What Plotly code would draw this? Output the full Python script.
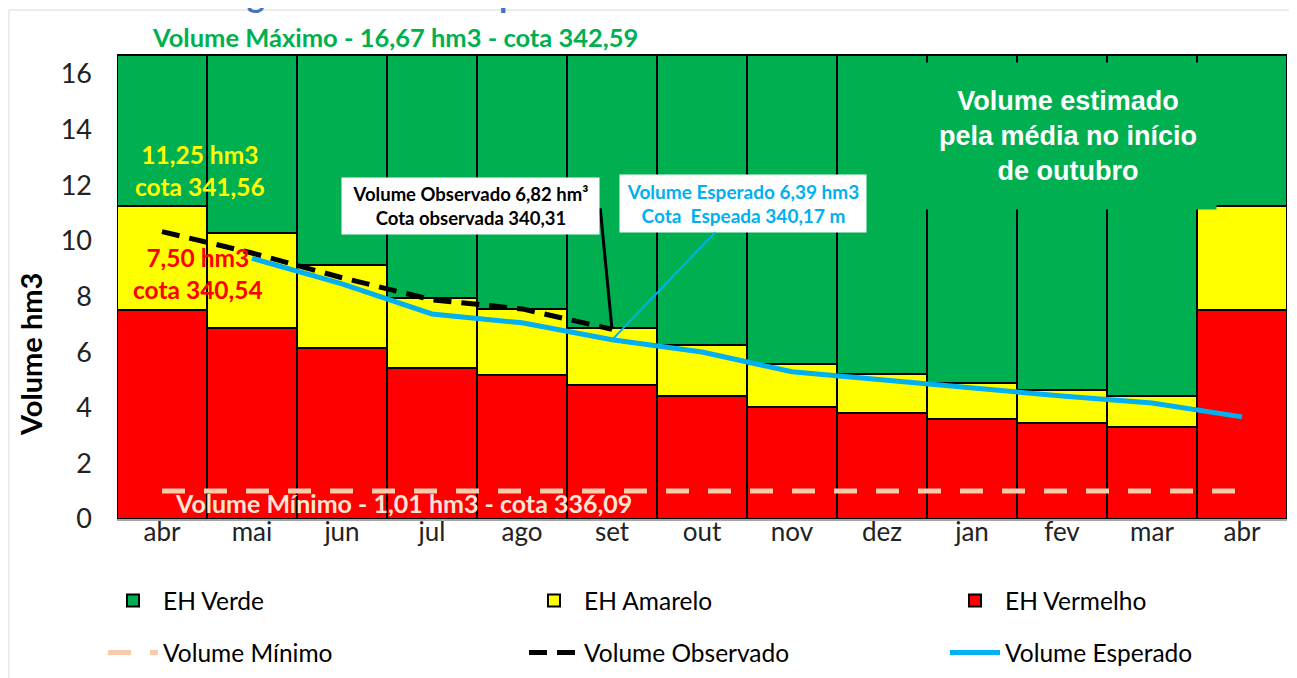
import plotly.graph_objects as go

# ---- data ----
months = ["abr", "mai", "jun", "jul", "ago", "set", "out", "nov", "dez", "jan", "fev", "mar", "abr"]
vol_max = 16.67
vol_min = 1.01
red_top = [7.50, 6.87, 6.15, 5.43, 5.18, 4.82, 4.42, 4.03, 3.81, 3.60, 3.45, 3.31, 7.50]
yellow_top = [11.25, 10.29, 9.14, 7.95, 7.55, 6.87, 6.26, 5.58, 5.22, 4.89, 4.64, 4.42, 11.25]
observado = [10.33, 9.56, 8.67, 7.88, 7.55, 6.82]
esperado = [9.37, 8.45, 7.37, 7.05, 6.44, 6.00, 5.29, 5.00, 4.68, 4.42, 4.17, 3.67]

idx = list(range(len(months)))
red_vals = red_top
yellow_vals = [y - r for y, r in zip(yellow_top, red_top)]
green_vals = [vol_max - y for y in yellow_top]

FONT = "Lato"
fig = go.Figure()
bar_line = dict(color="black", width=2)
fig.add_trace(go.Bar(x=idx, y=red_vals, name="EH Vermelho", marker=dict(color="#FF0000", line=bar_line),
                     width=1, legendrank=3))
fig.add_trace(go.Bar(x=idx, y=yellow_vals, name="EH Amarelo", marker=dict(color="#FFFF00", line=bar_line),
                     width=1, legendrank=2))
fig.add_trace(go.Bar(x=idx, y=green_vals, name="EH Verde", marker=dict(color="#00B050", line=bar_line),
                     width=1, legendrank=1))
fig.add_trace(go.Scatter(x=idx, y=[vol_min] * len(idx), mode="lines", name="Volume Mínimo", legend="legend2",
                         line=dict(color="#F8CBAD", width=5, dash="23px,19px"), legendrank=4))
fig.add_trace(go.Scatter(x=idx[:len(observado)], y=observado, mode="lines", name="Volume Observado",
                         legend="legend2",
                         line=dict(color="black", width=5, dash="18px,10px"), legendrank=5))
fig.add_trace(go.Scatter(x=idx[1:], y=esperado, mode="lines", name="Volume Esperado", legend="legend2",
                         line=dict(color="#00B0F0", width=5), legendrank=6))

# pixel helpers (page coords of the reference) -> plot coords
PX0, PY0, PW, PH = 117, 519, 1170, 473
def px(xp):
    return (xp - PX0) / PW
def py(yp):
    return (PY0 - yp) / PH
def dx(xp):
    return (xp - 162) / 90
def dy(yp):
    return (PY0 - yp) / 27.81

ann = []
ann.append(dict(text="<b>Volume Máximo - 16,67 hm3 - cota 342,59</b>", xref="paper", yref="paper",
                x=px(395), y=py(37), xanchor="center", yanchor="middle", showarrow=False,
                font=dict(family=FONT, size=25.5, color="#00B050")))
ann.append(dict(text="<b>11,25 hm3<br>cota 341,56</b>", xref="x", yref="y", x=dx(200), y=dy(171),
                showarrow=False, font=dict(family=FONT, size=24.5, color="#FFFF00")))
ann.append(dict(text="<b>7,50 hm3<br>cota 340,54</b>", xref="x", yref="y", x=dx(198), y=dy(274),
                showarrow=False, font=dict(family=FONT, size=24.5, color="#FF0000")))
ann.append(dict(text="<b>Volume Mínimo - 1,01 hm3 - cota 336,09</b>", xref="x", yref="y",
                x=dx(403), y=dy(503), showarrow=False, font=dict(family=FONT, size=25, color="#FBE5D6")))
# leader line of the "observado" callout
ann.append(dict(text=" ", xref="x", yref="y", x=5, y=observado[5], axref="x", ayref="y",
                ax=dx(600), ay=dy(206), showarrow=True, arrowhead=0, arrowwidth=3, arrowcolor="black",
                font=dict(size=2)))
ann.append(dict(text="<b>Volume Observado 6,82 hm³<br>Cota observada 340,31</b>", xref="x", yref="y",
                x=dx(470), y=dy(206), showarrow=False,
                width=247, height=46, bgcolor="white", borderpad=5,
                font=dict(family=FONT, size=18.5, color="black")))
ann.append(dict(text="<b>Volume Esperado 6,39 hm3<br>Cota  Espeada 340,17 m</b>", xref="x", yref="y",
                x=5, y=esperado[4], axref="x", ayref="y", ax=dx(743), ay=dy(203.5),
                showarrow=True, arrowhead=0, arrowwidth=2, arrowcolor="#00B0F0",
                width=236, height=47, bgcolor="white", borderpad=5,
                font=dict(family=FONT, size=19, color="#00B0F0")))
ann.append(dict(text="<b>Volume estimado<br>pela média no início<br>de outubro</b>", xref="x", yref="y",
                x=dx(1068), y=dy(136), showarrow=False, width=296, height=146,
                bgcolor="#00B050", borderpad=0, font=dict(family="Liberation Sans", size=27, color="white")))
ann.append(dict(text="<b>Volume hm3</b>", xref="paper", yref="paper", x=px(30), y=py(355),
                xanchor="center", yanchor="middle", textangle=-90, showarrow=False,
                font=dict(family=FONT, size=29, color="black")))
ann.append(dict(text="<b>Estado Hidrológico x Volume Esperado x Volume Observado</b>", xref="paper",
                yref="paper", x=px(20), xanchor="left", y=py(16), yanchor="bottom",
                showarrow=False, font=dict(family=FONT, size=34, color="#4472C4")))

fig.update_layout(
    width=1289, height=670,
    margin=dict(l=109, r=10, t=38, b=159, autoexpand=False),
    paper_bgcolor="white", plot_bgcolor="white",
    barmode="stack", bargap=0,
    showlegend=True,
    legend=dict(orientation="h", x=px(103), xanchor="left", y=py(578), yanchor="top",
                entrywidth=356, font=dict(family=FONT, size=24.5, color="black"),
                traceorder="normal", itemwidth=50),
    legend2=dict(orientation="h", x=px(103), xanchor="left", y=py(630), yanchor="top",
                 entrywidth=356, font=dict(family=FONT, size=24.5, color="black"),
                 traceorder="normal", itemwidth=50),
    annotations=ann,
    font=dict(family=FONT, size=20, color="black"),
    shapes=[dict(type="rect", xref="paper", yref="paper", x0=px(9), x1=1.02,
                 y0=-0.4, y1=py(10), line=dict(color="#D9D9D9", width=1), layer="below")],
)
fig.update_xaxes(range=[-0.5, 12.5], tickvals=idx, ticktext=months, showgrid=False, zeroline=False,
                 showline=True, linecolor="#A6A6A6", linewidth=2, ticks="", ticklabelstandoff=-11,
                 automargin=False, tickfont=dict(family=FONT, size=26, color="#222"))
fig.update_yaxes(range=[0, 17], tickvals=[0, 2, 4, 6, 8, 10, 12, 14, 16], showgrid=False, zeroline=False,
                 showline=False, ticks="", ticklabelstandoff=24, automargin=False,
                 tickfont=dict(family=FONT, size=27, color="#222"))

fig.write_html("out.html")
